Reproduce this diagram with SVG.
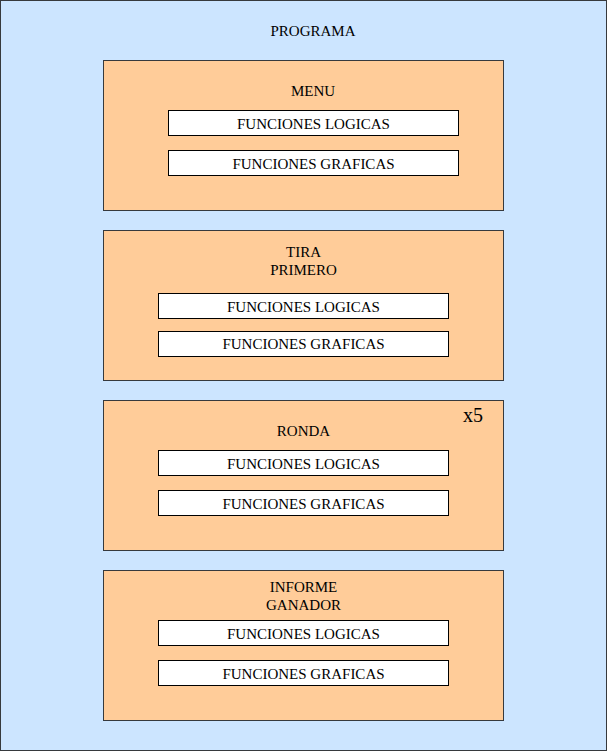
<svg xmlns="http://www.w3.org/2000/svg" width="607" height="751" viewBox="0 0 607 751">
<style>
text{font-family:"Liberation Serif","Times New Roman",serif;font-size:15px;fill:#000;text-anchor:middle}
.outer{fill:#cce5ff;stroke:#36393d;stroke-width:1}
.box{fill:#ffcc99;stroke:#36393d;stroke-width:1}
.fn{fill:#ffffff;stroke:#000000;stroke-width:1}
.big{font-size:20px}
</style>
<g id="programa">
<rect class="outer" x="0.5" y="0.5" width="606" height="750"/>
<text x="313" y="36">PROGRAMA</text>
</g>
<g id="menu">
<rect class="box" x="103.5" y="60.5" width="400" height="150"/>
<text x="313" y="96">MENU</text>
<rect class="fn" x="168.5" y="110.5" width="290" height="25"/>
<text x="313.5" y="129">FUNCIONES LOGICAS</text>
<rect class="fn" x="168.5" y="150.5" width="290" height="25"/>
<text x="313.5" y="169">FUNCIONES GRAFICAS</text>
</g>
<g id="tira-primero">
<rect class="box" x="103.5" y="230.5" width="400" height="150"/>
<text x="303.5" y="257">TIRA</text>
<text x="303.5" y="275">PRIMERO</text>
<rect class="fn" x="158.5" y="293.5" width="290" height="25"/>
<text x="303.5" y="311.5">FUNCIONES LOGICAS</text>
<rect class="fn" x="158.5" y="331.5" width="290" height="25"/>
<text x="303.5" y="349">FUNCIONES GRAFICAS</text>
</g>
<g id="ronda">
<rect class="box" x="103.5" y="400.5" width="400" height="150"/>
<text x="303.5" y="436">RONDA</text>
<text class="big" x="473" y="422">x5</text>
<rect class="fn" x="158.5" y="450.5" width="290" height="25"/>
<text x="303.5" y="469">FUNCIONES LOGICAS</text>
<rect class="fn" x="158.5" y="490.5" width="290" height="25"/>
<text x="303.5" y="509">FUNCIONES GRAFICAS</text>
</g>
<g id="informe-ganador">
<rect class="box" x="103.5" y="570.5" width="400" height="150"/>
<text x="303.5" y="592">INFORME</text>
<text x="303.5" y="610">GANADOR</text>
<rect class="fn" x="158.5" y="620.5" width="290" height="25"/>
<text x="303.5" y="639">FUNCIONES LOGICAS</text>
<rect class="fn" x="158.5" y="660.5" width="290" height="25"/>
<text x="303.5" y="679">FUNCIONES GRAFICAS</text>
</g>
<g id="connectors"></g>
</svg>
